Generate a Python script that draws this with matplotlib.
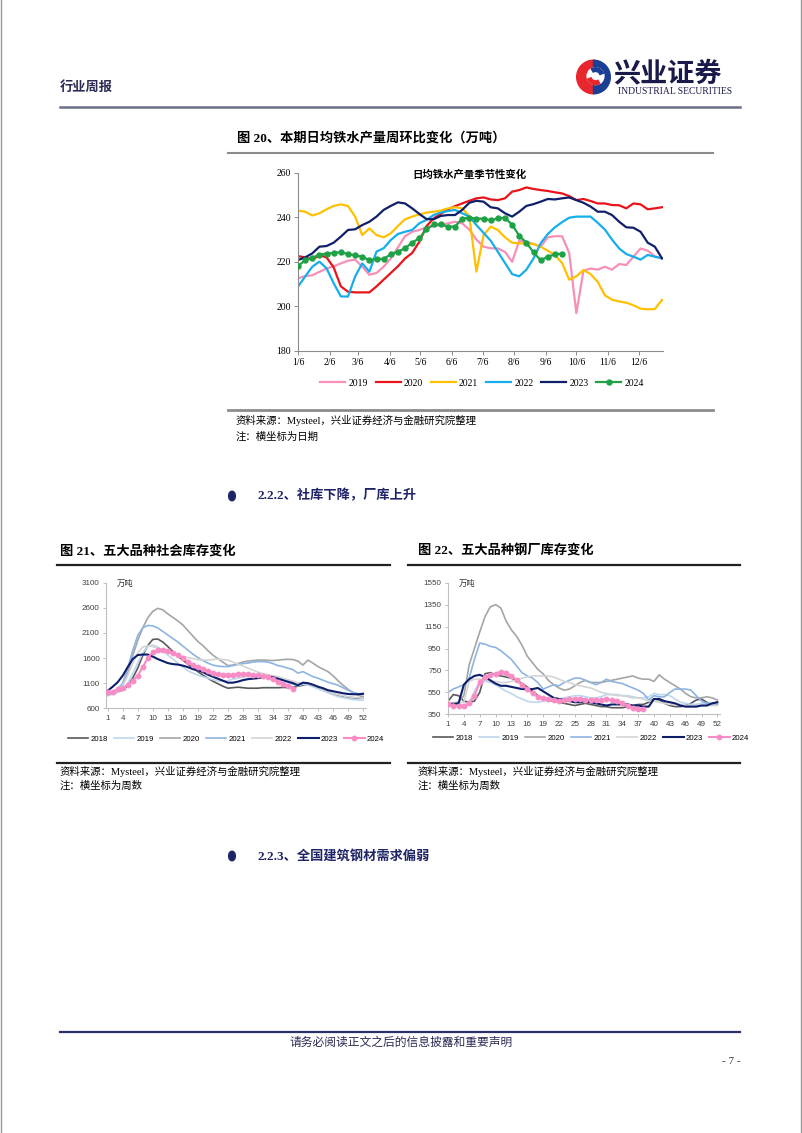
import numpy as np
import matplotlib
matplotlib.use("Agg")
import matplotlib.pyplot as plt
from matplotlib.patches import Wedge, Circle

plt.rcParams['font.family'] = ['Liberation Serif', 'Noto Sans CJK SC', 'DejaVu Sans']

# ---------------- data ----------------
# 图20: 日均铁水产量 (万吨), 周度, 横轴为日期 (一年中的第几天)
years_hm = ['2019', '2020', '2021', '2022', '2023', '2024']
hm_2019 = [212.6, 213.6, 214.0, 215.5, 217.0, 218.0, 219.3, 220.5, 221.0, 217.8, 214.2, 215.0, 217.8,
           221.5, 226.5, 231.5, 233.5, 234.3, 235.5, 236.0, 236.5, 237.3, 238.0, 237.3, 234.5, 230.0,
           226.8, 226.1, 226.0, 224.5, 220.0, 229.5, 229.0, 228.0, 226.8, 231.0, 231.5, 231.5, 224.0,
           197.0, 216.0, 217.0, 216.5, 217.8, 216.5, 219.0, 218.6, 222.3, 226.0, 225.0, 222.5, 221.5]
hm_2020 = [222.6, 222.0, 221.0, 223.0, 222.0, 217.5, 209.0, 206.6, 206.3, 206.3, 206.3, 209.0, 212.0,
           215.0, 218.0, 221.5, 224.0, 229.0, 236.0, 239.5, 241.5, 243.5, 245.0, 246.2, 247.4, 248.5,
           248.9, 248.0, 247.7, 248.5, 251.5, 252.2, 253.4, 252.7, 252.2, 251.8, 251.2, 250.7, 249.5,
           247.7, 248.2, 247.3, 246.2, 246.2, 245.5, 245.4, 244.0, 246.2, 245.8, 243.6, 244.0, 244.5]
hm_2021 = [243.0, 242.5, 240.8, 241.8, 243.6, 245.1, 245.8, 245.1, 240.3, 232.0, 235.0, 232.0, 231.0,
           232.8, 236.1, 239.1, 240.3, 241.3, 242.1, 242.5, 243.0, 244.0, 244.5, 244.0, 240.5, 215.6,
           232.0, 235.8, 234.3, 231.0, 228.6, 228.3, 228.3, 228.0, 226.8, 225.0, 223.0, 219.5, 212.0,
           213.5, 216.3, 214.5, 211.0, 205.0, 203.0, 202.2, 201.7, 200.5, 199.0, 198.7, 198.8, 202.9]
hm_2022 = [208.9, 213.4, 217.8, 220.1, 217.1, 210.4, 204.5, 204.4, 213.4, 219.3, 215.6, 224.6, 226.1,
           229.8, 232.5, 233.5, 234.3, 237.3, 238.8, 241.0, 242.1, 242.8, 243.3, 241.8, 240.3, 236.5,
           233.0, 229.5, 224.5, 219.5, 214.5, 213.5, 216.5, 221.5, 228.3, 232.5, 235.5, 237.8, 239.8,
           240.3, 240.3, 240.3, 237.5, 234.5, 230.0, 226.0, 223.5, 222.3, 221.0, 223.1, 222.3, 221.6]
hm_2023 = [220.8, 222.0, 223.8, 226.8, 227.1, 228.6, 231.3, 234.3, 234.6, 236.5, 238.0, 240.3, 243.3,
           245.1, 246.7, 246.2, 244.0, 241.5, 239.2, 239.1, 240.6, 241.0, 241.0, 243.3, 246.5, 247.4,
           247.0, 244.5, 244.0, 241.8, 240.3, 242.5, 245.1, 245.9, 247.0, 248.2, 248.0, 248.5, 248.9,
           247.7, 246.5, 244.8, 242.5, 242.5, 241.0, 238.0, 235.5, 235.3, 233.5, 228.6, 226.8, 221.6]
hm_2024 = [218.1, 220.7, 221.9, 223.2, 223.7, 224.0, 224.3, 223.5, 222.9, 222.3, 220.8, 221.3, 221.3,
           223.4, 224.6, 226.1, 228.6, 230.6, 234.6, 236.8, 236.8, 235.8, 235.8, 239.4, 239.8, 239.4,
           239.4, 238.6, 239.5, 239.7, 236.7, 231.7, 228.6, 224.3, 220.7, 222.3, 223.4, 223.7]
hm_ticks = [6, 37, 65, 96, 126, 157, 187, 218, 249, 279, 310, 340]
hm_ticklabels = ['1/6', '2/6', '3/6', '4/6', '5/6', '6/6', '7/6', '8/6', '9/6', '10/6', '11/6', '12/6']

# 图21: 五大品种社会库存 (万吨), 横轴为周数
years_inv = ['2018', '2019', '2020', '2021', '2022', '2023', '2024']
soc_2018 = [860, 900, 930, 960, 1050, 1200, 1400, 1650, 1850, 1970, 1980, 1920, 1830, 1730, 1640, 1560,
            1480, 1400, 1330, 1260, 1200, 1140, 1090, 1040, 1000, 1010, 1020, 1010, 1000, 1000, 1000,
            1010, 1010, 1010, 1010, 1015, 1015, 1018, 1040, 1060, 1080, 1040, 1000, 960, 920, 880, 860,
            840, 820, 810, 800, 800]
soc_2019 = [850, 880, 920, 980, 1100, 1300, 1500, 1700, 1830, 1860, 1820, 1750, 1660, 1580, 1500, 1420,
            1350, 1300, 1260, 1230, 1200, 1170, 1150, 1140, 1150, 1180, 1200, 1220, 1240, 1250, 1250,
            1240, 1230, 1200, 1170, 1140, 1110, 1080, 1050, 1080, 1060, 1030, 990, 950, 910, 870, 830,
            810, 790, 775, 765, 760]
soc_2020 = [870, 900, 950, 1050, 1300, 1650, 1950, 2200, 2400, 2530, 2590, 2560, 2480, 2410, 2340, 2260,
            2150, 2040, 1930, 1850, 1750, 1660, 1590, 1520, 1450, 1460, 1490, 1520, 1540, 1550, 1560,
            1560, 1555, 1550, 1560, 1570, 1575, 1570, 1540, 1460, 1560, 1500, 1430, 1380, 1330, 1250,
            1150, 1060, 980, 910, 860, 830]
soc_2021 = [880, 920, 980, 1100, 1400, 1750, 2050, 2200, 2250, 2240, 2200, 2130, 2060, 1990, 1920, 1840,
            1760, 1680, 1610, 1550, 1500, 1460, 1440, 1430, 1430, 1450, 1470, 1490, 1500, 1520, 1530,
            1530, 1520, 1490, 1450, 1430, 1400, 1370, 1300, 1330, 1280, 1230, 1200, 1160, 1120, 1090,
            1060, 1010, 960, 920, 890, 870]
soc_2022 = [880, 910, 960, 1050, 1250, 1500, 1700, 1820, 1850, 1830, 1790, 1750, 1710, 1680, 1650, 1630,
            1610, 1590, 1570, 1560, 1560, 1570, 1580, 1570, 1560, 1520, 1480, 1440, 1400, 1360, 1320,
            1290, 1270, 1250, 1230, 1200, 1170, 1140, 1110, 1100, 1090, 1060, 1020, 980, 940, 900, 870,
            850, 830, 820, 810, 800]
soc_2023 = [950, 1030, 1120, 1250, 1420, 1580, 1660, 1670, 1670, 1630, 1580, 1540, 1500, 1480, 1470, 1450,
            1420, 1380, 1360, 1320, 1270, 1230, 1190, 1150, 1110, 1110, 1130, 1160, 1180, 1190, 1200,
            1220, 1230, 1220, 1190, 1160, 1130, 1100, 1060, 1110, 1100, 1070, 1030, 1000, 960, 940, 920,
            900, 885, 880, 880, 890]
soc_2024 = [920, 930, 980, 1000, 1060, 1150, 1250, 1420, 1600, 1720, 1760, 1770, 1740, 1700, 1660, 1600,
            1530, 1460, 1420, 1380, 1340, 1300, 1280, 1270, 1265, 1270, 1280, 1285, 1280, 1270, 1260,
            1240, 1220, 1180, 1130, 1080, 1040, 990]

# 图22: 五大品种钢厂库存 (万吨), 横轴为周数
fac_2018 = [470, 530, 520, 470, 460, 470, 550, 720, 730, 710, 700, 690, 680, 660, 630, 600, 560, 520, 490,
            480, 470, 460, 450, 440, 430, 440, 450, 440, 430, 420, 420, 410, 410, 410, 420, 430, 440, 440,
            460, 490, 480, 450, 430, 420, 420, 430, 450, 480, 490, 460, 440, 440]
fac_2019 = [440, 430, 420, 410, 450, 560, 650, 650, 640, 620, 590, 560, 540, 510, 490, 470, 460, 460, 470,
            480, 480, 490, 500, 510, 520, 520, 510, 500, 500, 510, 530, 530, 530, 520, 520, 510, 500, 500,
            510, 540, 530, 530, 520, 490, 460, 450, 440, 440, 450, 450, 450, 460]
fac_2020 = [450, 455, 460, 520, 800, 950, 1100, 1240, 1330, 1350, 1320, 1200, 1120, 1060, 980, 880, 820,
            760, 720, 660, 620, 590, 570, 580, 610, 640, 660, 640, 640, 640, 650, 660, 670, 680, 690, 700,
            680, 670, 670, 650, 710, 670, 640, 610, 580, 540, 510, 500, 500, 510, 500, 480]
fac_2021 = [550, 580, 600, 620, 680, 850, 1000, 990, 970, 960, 930, 890, 850, 790, 730, 700, 680, 640, 580,
            600, 620, 610, 640, 660, 680, 680, 660, 640, 620, 640, 670, 650, 640, 630, 610, 590, 570, 540,
            480, 520, 510, 510, 550, 580, 580, 580, 570, 520, 470, 450, 440, 440]
fac_2022 = [430, 440, 450, 460, 650, 670, 670, 660, 650, 650, 640, 640, 650, 660, 680, 690, 700, 700, 700,
            700, 690, 670, 650, 640, 620, 610, 600, 590, 570, 550, 540, 530, 520, 520, 510, 500, 500, 490,
            470, 470, 460, 450, 440, 440, 440, 430, 430, 430, 430, 430, 430, 430]
fac_2023 = [440, 440, 450, 620, 670, 700, 710, 690, 660, 630, 610, 610, 600, 590, 580, 580, 580, 590, 560,
            530, 500, 490, 480, 470, 460, 460, 470, 460, 450, 440, 430, 440, 440, 440, 440, 430, 430, 420,
            420, 490, 490, 470, 460, 450, 430, 420, 420, 420, 430, 430, 450, 460]
fac_2024 = [440, 430, 430, 430, 450, 520, 640, 690, 710, 720, 740, 730, 700, 660, 620, 580, 540, 510, 500,
            490, 480, 470, 480, 490, 490, 490, 480, 480, 480, 480, 490, 480, 470, 450, 430, 410, 400, 400]

W, H = 802, 1133
fig = plt.figure(figsize=(W / 100, H / 100), dpi=100)


def fx(x):
    return x / W


def fy(y):
    return 1 - y / H


def add_ax(l, t, r, b):
    return fig.add_axes([fx(l), fy(b), (r - l) / W, (b - t) / H])


def hline(x0, x1, y, color, lw):
    fig.add_artist(plt.Line2D([fx(x0), fx(x1)], [fy(y), fy(y)], color=color, lw=lw,
                              transform=fig.transFigure))


def txt(x, y, s, size, **kw):
    fig.text(fx(x), fy(y), s, fontsize=size, va='center', **kw)


# ---------------- page header / footer ----------------
navy = '#1F2466'
txt(60, 88, '行业周报', 9.5, color='#2b2b55', fontweight='bold')
hline(60, 740, 107, '#6d6f86', 1.8)

# logo
lax = add_ax(575, 58, 612, 96)
lax.set_xlim(-1.1, 1.1)
lax.set_ylim(-1.1, 1.1)
lax.set_aspect('equal')
lax.axis('off')
lax.add_patch(Wedge((0, 0), 1.0, 90, 270, color='#E8262D'))
lax.add_patch(Wedge((0, 0), 1.0, -90, 90, color='#1B3F94'))
lax.add_patch(Circle((0.12, 0.05), 0.5, color='white'))
lax.add_patch(Wedge((0.12, 0.05), 0.5, 200, 300, width=0.22, color='#E8262D'))
lax.add_patch(Wedge((0.12, 0.05), 0.5, 20, 120, width=0.22, color='#1B3F94'))
txt(613, 73, '兴业证券', 19.5, color='#1a1a4a', fontweight='bold', family=['Noto Sans CJK SC'])
txt(618, 92, 'INDUSTRIAL SECURITIES', 6.9, color='#1a1a4a')

hline(60, 740, 1032, '#2B2F6B', 1.6)
fig.text(0.5, fy(1043), '请务必阅读正文之后的信息披露和重要声明', fontsize=8.5, ha='center', va='center',
         color='#2b2b55')
txt(722, 1062, '- 7 -', 8, color='#333333')
fig.add_artist(plt.Line2D([0.001, 0.001], [0, 1], color='#999999', lw=1, transform=fig.transFigure))
fig.add_artist(plt.Line2D([0.999, 0.999], [0, 1], color='#999999', lw=1, transform=fig.transFigure))

# ---------------- 图20 ----------------
txt(237, 138, '图 20、本期日均铁水产量周环比变化（万吨）', 9.5, fontweight='bold')
hline(228, 713, 153, '#8c8c8c', 1.5)

ax1 = add_ax(298, 172.7, 663, 351)
x_hm = np.arange(52) * 7 + 6
hm_colors = ['#F78FB8', '#E8141A', '#FFC000', '#16AEEA', '#0F1F6B', '#1FA247']
hm_series = [hm_2019, hm_2020, hm_2021, hm_2022, hm_2023, hm_2024]
for yr, vals, c in zip(years_hm, hm_series, hm_colors):
    xs = x_hm[:len(vals)]
    if yr == '2024':
        ax1.plot(xs, vals, color=c, lw=1.6, marker='o', ms=3.6, label=yr, zorder=5)
    else:
        ax1.plot(xs, vals, color=c, lw=1.6, label=yr)
ax1.set_xlim(6, 364)
ax1.set_ylim(180, 260)
ax1.set_yticks([180, 200, 220, 240, 260])
ax1.set_xticks(hm_ticks)
ax1.set_xticklabels(hm_ticklabels)
for s in ['top', 'right']:
    ax1.spines[s].set_visible(False)
for s in ['left', 'bottom']:
    ax1.spines[s].set_color('#8c8c8c')
    ax1.spines[s].set_linewidth(0.8)
ax1.tick_params(labelsize=7, length=3, width=0.7, color='#8c8c8c', pad=2)
ax1.text(0.47, 0.985, '日均铁水产量季节性变化', transform=ax1.transAxes, ha='center', va='center',
         fontsize=7.5, fontweight='bold')
fig.legend(*ax1.get_legend_handles_labels(), loc='center', bbox_to_anchor=(fx(482), fy(383)),
           ncol=6, frameon=False, fontsize=7, handlelength=2.6, columnspacing=0.8, handletextpad=0.3)

hline(228, 713, 410, '#8c8c8c', 2.0)
txt(236, 420, '资料来源：Mysteel，兴业证券经济与金融研究院整理', 7.5)
txt(236, 437, '注：横坐标为日期', 7.5)

fig.add_artist(Circle((fx(232), fy(496)), 0.0042, color=navy, transform=fig.transFigure))
txt(257, 496, '2.2.2、社库下降，厂库上升', 9.5, color=navy, fontweight='bold')

# ---------------- 图21 / 图22 ----------------
inv_colors = ['#595959', '#BDD7EE', '#A5A5A5', '#8DB4E2', '#D4D4D4', '#0D1E6B', '#F98CC4']
weeks = np.arange(1, 53)
wk_ticks = list(range(1, 53, 3))


def inv_chart(ax, series, ylim, yticks, xlim):
    for yr, vals, c in zip(years_inv, series, inv_colors):
        xs = weeks[:len(vals)]
        if yr == '2024':
            ax.plot(xs, vals, color=c, lw=1.5, marker='o', ms=3.2, label=yr, zorder=6)
        elif yr == '2023':
            ax.plot(xs, vals, color=c, lw=1.5, label=yr, zorder=5)
        else:
            ax.plot(xs, vals, color=c, lw=1.2, label=yr)
    ax.set_xlim(*xlim)
    ax.set_ylim(*ylim)
    ax.set_yticks(yticks)
    ax.set_xticks(wk_ticks)
    for s in ['top', 'right']:
        ax.spines[s].set_visible(False)
    for s in ['left', 'bottom']:
        ax.spines[s].set_color('#bfbfbf')
        ax.spines[s].set_linewidth(0.8)
    ax.tick_params(labelsize=5.8, length=2.5, width=0.7, color='#bfbfbf', labelcolor='#404040', pad=2)
    for lab in ax.get_xticklabels() + ax.get_yticklabels():
        lab.set_family('Liberation Sans')
    ax.text(0.04, 0.99, '万吨', transform=ax.transAxes, fontsize=6, va='center', ha='left', color='#333333')


txt(60, 551, '图 21、五大品种社会库存变化', 9.5, fontweight='bold')
hline(57, 390, 565, '#222222', 1.6)
ax2 = add_ax(106, 582.7, 366, 708.3)
inv_chart(ax2, [soc_2018, soc_2019, soc_2020, soc_2021, soc_2022, soc_2023, soc_2024],
          (600, 3100), [600, 1100, 1600, 2100, 2600, 3100], (0.66, 52.6))
fig.legend(*ax2.get_legend_handles_labels(), loc='center', bbox_to_anchor=(fx(226), fy(739)),
           ncol=7, frameon=False, handlelength=2.6, columnspacing=0.8,
           handletextpad=0.3, prop={'family': 'Liberation Sans', 'size': 5.6})
hline(57, 390, 763, '#222222', 1.6)
txt(60, 771, '资料来源：Mysteel，兴业证券经济与金融研究院整理', 7.5)
txt(60, 786, '注：横坐标为周数', 7.5)

txt(418, 551, '图 22、五大品种钢厂库存变化', 9.5, fontweight='bold')
hline(408, 740, 565, '#222222', 1.6)
ax3 = add_ax(447.7, 582.7, 720, 714.3)
inv_chart(ax3, [fac_2018, fac_2019, fac_2020, fac_2021, fac_2022, fac_2023, fac_2024],
          (350, 1550), [350, 550, 750, 950, 1150, 1350, 1550], (0.94, 52.5))
fig.legend(*ax3.get_legend_handles_labels(), loc='center', bbox_to_anchor=(fx(591), fy(738)),
           ncol=7, frameon=False, handlelength=2.6, columnspacing=0.8,
           handletextpad=0.3, prop={'family': 'Liberation Sans', 'size': 5.6})
hline(408, 740, 763, '#222222', 1.6)
txt(418, 771, '资料来源：Mysteel，兴业证券经济与金融研究院整理', 7.5)
txt(418, 786, '注：横坐标为周数', 7.5)

fig.add_artist(Circle((fx(232), fy(856)), 0.0042, color=navy, transform=fig.transFigure))
txt(257, 856, '2.2.3、全国建筑钢材需求偏弱', 9.5, color=navy, fontweight='bold')

fig.savefig('out.png', dpi=100)
plt.close(fig)
